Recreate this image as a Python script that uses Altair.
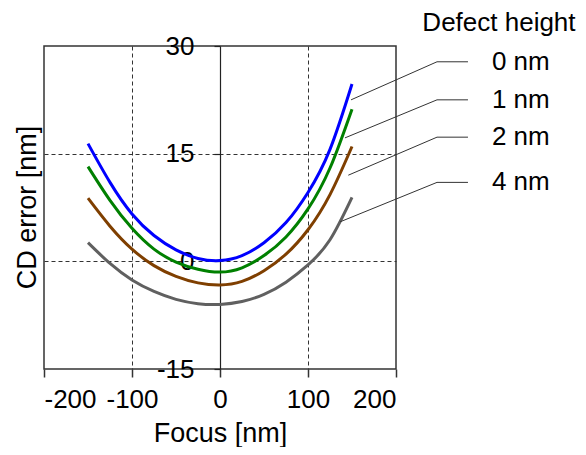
import altair as alt
import pandas as pd

# ---- data ----
focus = [-150, -125, -100, -75, -50, -25, 0, 25, 50, 75, 100, 125, 150]
cd_0nm = [16.4, 11.0, 6.6, 3.6, 1.6, 0.4, 0.1, 0.8, 2.6, 5.4, 9.6, 15.6, 24.7]
cd_1nm = [13.2, 8.5, 4.6, 1.7, -0.1, -1.1, -1.5, -0.9, 0.8, 3.4, 7.3, 13.0, 21.2]
cd_2nm = [8.8, 4.9, 1.7, -0.6, -2.1, -3.0, -3.3, -2.8, -1.3, 1.0, 4.4, 9.3, 16.0]
cd_4nm = [2.6, -0.3, -2.6, -4.2, -5.3, -5.9, -6.0, -5.6, -4.6, -2.9, -0.5, 3.0, 8.9]

series_names = ["0 nm", "1 nm", "2 nm", "4 nm"]
series_colors = ["#0000ff", "#008000", "#7f3f00", "#606060"]
legend_title = "Defect height"

# leader lines (data coordinates): curve point -> elbow -> label
leader_x = [148.9, 142.0, 145.8, 136.4]
leader_y = [22.5, 17.2, 12.0, 5.5]
label_y = [27.8, 22.5, 17.3, 11.0]
elbow_x = 246.6
end_x = 281.8
label_x = 309.0
title_pos = (317.0, 33.2)

x_ticks = [-200, -100, 0, 100, 200]
y_ticks = [-15, 0, 15, 30]

FONT = "Liberation Sans"
FS_TICK = 26
FS_TITLE = 27
FS_LEG = 26

rows = []
for name, vals in zip(series_names, [cd_0nm, cd_1nm, cd_2nm, cd_4nm]):
    for f, v in zip(focus, vals):
        rows.append({"focus": f, "cd": v, "series": name})
df = pd.DataFrame(rows)

xscale = alt.Scale(domain=[-200, 200], nice=False, zero=False)
yscale = alt.Scale(domain=[-15, 30], nice=False, zero=False)

lines = alt.Chart(df).mark_line(strokeWidth=3, interpolate="natural", clip=False).encode(
    x=alt.X(
        "focus:Q",
        scale=xscale,
        axis=alt.Axis(
            values=x_ticks,
            labelExpr="toString(datum.value)",
            title="Focus [nm]",
            grid=True,
            gridDash=[4, 3],
            gridColor="#333333",
            gridWidth=1,
            gridOpacity={"expr": "abs(datum.value) == 100 ? 1 : 0"},
            domain=False,
            tickSize=8,
            tickColor="#333333",
            tickWidth=1.5,
            labelFont=FONT,
            labelFontSize=FS_TICK,
            labelColor="black",
            labelPadding=9,
            titleFont=FONT,
            titleFontSize=FS_TITLE,
            titleFontWeight="normal",
            titleColor="black",
            titlePadding=8,
        ),
    ),
    y=alt.Y(
        "cd:Q",
        scale=yscale,
        axis=alt.Axis(
            values=y_ticks,
            labelExpr="toString(datum.value)",
            title="CD error [nm]",
            offset=-176,
            grid=True,
            gridDash=[4, 3],
            gridColor="#333333",
            gridWidth=1,
            gridOpacity={"expr": "(datum.value == 0 || datum.value == 15) ? 1 : 0"},
            domain=True,
            domainColor="#222222",
            domainWidth=1.2,
            tickSize=6,
            tickColor="#222222",
            tickWidth=1.2,
            labelFont=FONT,
            labelFontSize=FS_TICK,
            labelColor="black",
            labelPadding=20,
            titleFont=FONT,
            titleFontSize=FS_TITLE,
            titleFontWeight="normal",
            titleColor="black",
            titleX=-193,
            titleY=161,
            titleAngle=270,
            titleBaseline="middle",
            titleAlign="center",
        ),
    ),
    color=alt.Color(
        "series:N",
        scale=alt.Scale(domain=series_names, range=series_colors),
        legend=None,
    ),
)

lead_df = pd.DataFrame(
    {
        "x0": leader_x,
        "y0": leader_y,
        "x1": [elbow_x] * 4,
        "y1": label_y,
        "x2": [end_x] * 4,
        "lx": [label_x] * 4,
        "label": series_names,
    }
)

diag = alt.Chart(lead_df).mark_rule(color="#333333", strokeWidth=1, clip=False).encode(
    x=alt.X("x0:Q", scale=xscale), y=alt.Y("y0:Q", scale=yscale),
    x2="x1:Q", y2="y1:Q",
)
horiz = alt.Chart(lead_df).mark_rule(color="#333333", strokeWidth=1, clip=False).encode(
    x=alt.X("x1:Q", scale=xscale), y=alt.Y("y1:Q", scale=yscale),
    x2="x2:Q",
)
labels = alt.Chart(lead_df).mark_text(
    font=FONT, fontSize=FS_LEG, align="left", baseline="middle", color="black", clip=False
).encode(
    x=alt.X("lx:Q", scale=xscale), y=alt.Y("y1:Q", scale=yscale), text="label:N"
)
title_df = pd.DataFrame({"x": [title_pos[0]], "y": [title_pos[1]], "t": [legend_title]})
ltitle = alt.Chart(title_df).mark_text(
    font=FONT, fontSize=26, align="center", baseline="middle", color="black", clip=False
).encode(x=alt.X("x:Q", scale=xscale), y=alt.Y("y:Q", scale=yscale), text="t:N")

chart = (
    alt.layer(lines, diag, horiz, labels, ltitle)
    .properties(
        width=352,
        height=323,
        autosize=alt.AutoSizeParams(type="none"),
        padding={"left": 36, "top": 38, "right": 182, "bottom": 78},
        background="white",
    )
    .configure_view(stroke="#333333", strokeWidth=1.5)
)

chart.save("out.html", embed_options={"renderer": "svg", "actions": False})
